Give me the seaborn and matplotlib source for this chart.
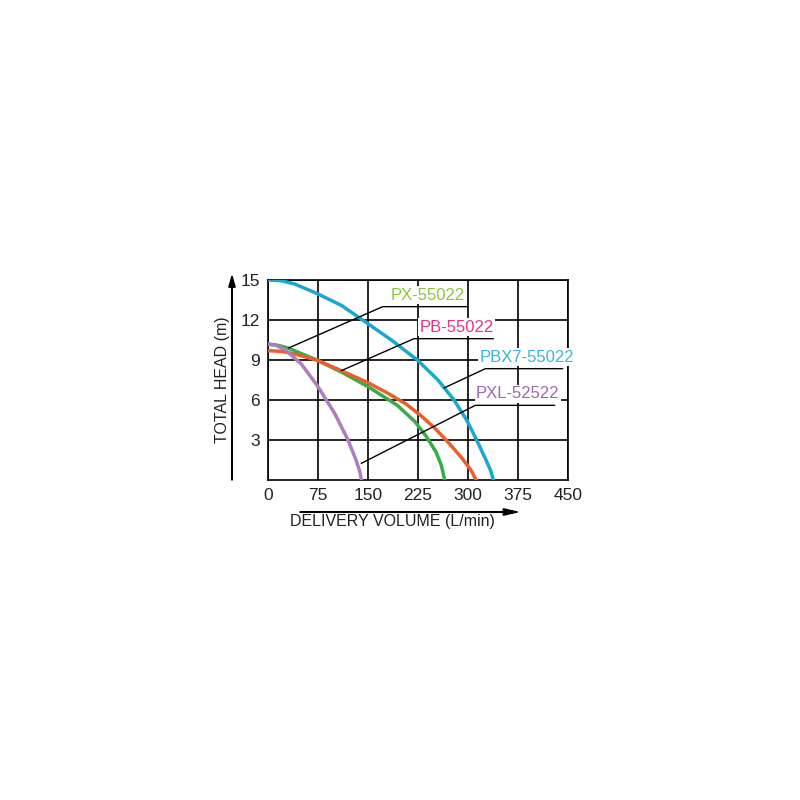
import matplotlib
matplotlib.use("Agg")
import matplotlib.pyplot as plt
import seaborn as sns
import pandas as pd

sns.set_style("white")
plt.rcParams['font.family'] = ['Liberation Sans', 'DejaVu Sans']

pbx7_x = [0, 20, 40, 73, 110, 142, 185, 224, 255, 279, 298, 313, 327, 334, 338]
pbx7_y = [15, 14.95, 14.7, 14, 13.1, 12, 10.5, 9, 7.5, 6, 4.5, 3, 1.5, 0.7, 0]
pb_x = [0, 20, 40, 73, 110, 150, 180, 207, 230, 250, 269, 290, 305, 312]
pb_y = [9.7, 9.65, 9.45, 9, 8.2, 7.3, 6.5, 5.7, 4.8, 3.9, 2.9, 1.7, 0.7, 0]
px_x = [0, 15, 30, 73, 110, 150, 194, 220, 237, 252, 260, 265]
px_y = [10.2, 10.1, 9.9, 9, 8.1, 7.0, 5.6, 4.4, 3.3, 2.1, 1.1, 0]
pxl_x = [0, 12, 25, 50, 75, 100, 120, 132, 138, 140]
pxl_y = [10.2, 10.1, 9.8, 8.7, 7, 5, 3, 1.5, 0.6, 0]

names = ["PX-55022", "PB-55022", "PBX7-55022", "PXL-52522"]
curve_colors = ["#3aaa4a", "#e8602c", "#1aa8d0", "#b07cc0"]
text_colors = ["#8cc63f", "#e0358a", "#3cb4d8", "#a066b0"]
leaders = [(31, 9.9, 172, 13.0, 300), (110, 8.2, 219, 10.6, 338),
           (264, 6.9, 326, 8.35, 442), (140, 1.25, 311, 5.6, 430)]
xticks = [0, 75, 150, 225, 300, 375, 450]
yticks = [3, 6, 9, 12, 15]

df = pd.concat([
    pd.DataFrame({"x": px_x, "y": px_y, "s": names[0]}),
    pd.DataFrame({"x": pb_x, "y": pb_y, "s": names[1]}),
    pd.DataFrame({"x": pbx7_x, "y": pbx7_y, "s": names[2]}),
    pd.DataFrame({"x": pxl_x, "y": pxl_y, "s": names[3]}),
])

fig = plt.figure(figsize=(8, 8), dpi=100)
ax = fig.add_axes([0.335, 0.4, 0.375, 0.25])
sns.lineplot(data=df, x="x", y="y", hue="s", palette=dict(zip(names, curve_colors)),
             sort=False, estimator=None, lw=2.5, legend=False, ax=ax, zorder=3)
ax.set_xlim(0, 450)
ax.set_ylim(0, 15)
ax.set_xticks(xticks)
ax.set_yticks(yticks)
ax.grid(True, color="black", lw=1.2)
for s in ax.spines.values():
    s.set_color("black"); s.set_linewidth(1.2)
ax.tick_params(length=0, labelsize=12.5, colors="#222222", pad=6)
ax.set_xlabel(""); ax.set_ylabel("")

for (x0, y0, x1, y1, x2), n, c in zip(leaders, names, text_colors):
    ax.plot([x0, x1, x2], [y0, y1, y1], color="black", lw=1, zorder=4)
    ax.text((x1 + x2) / 2 + 4, y1 + 0.3, n, color=c, fontsize=12,
            ha="center", va="bottom", zorder=5,
            bbox=dict(facecolor="white", edgecolor="none", pad=1))

fig.patches.append(matplotlib.patches.FancyArrow(0.29, 0.4, 0, 0.255, width=0.0008,
                   head_width=0.008, head_length=0.014, color="black",
                   length_includes_head=True, transform=fig.transFigure))
fig.patches.append(matplotlib.patches.FancyArrow(0.375, 0.36, 0.272, 0, width=0.0008,
                   head_width=0.008, head_length=0.018, color="black",
                   length_includes_head=True, transform=fig.transFigure))
fig.text(0.278, 0.525, "TOTAL HEAD (m)", rotation=90, ha="center", va="center",
         fontsize=11.5, color="#222222")
fig.text(0.49, 0.348, "DELIVERY VOLUME (L/min)", ha="center", va="center",
         fontsize=11.5, color="#222222")

fig.savefig("out.png", dpi=100, facecolor="white")
